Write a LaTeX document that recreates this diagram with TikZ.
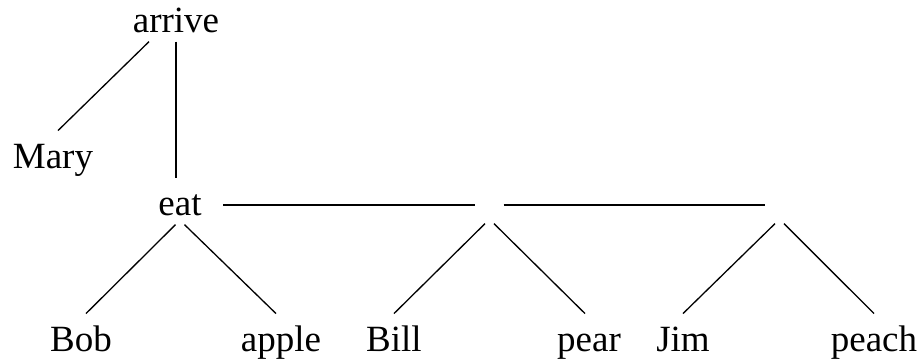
\documentclass[tikz,border=0pt]{standalone}
\usepackage{fontspec}
\setmainfont{Liberation Serif}
\usepackage{tikz}

\begin{document}
\begin{tikzpicture}[x=0.5pt,y=-0.5pt,
  word/.style={anchor=base, inner sep=4.5pt, text height=13.9pt, text depth=0pt,
    font=\fontsize{18.5}{22}\selectfont},
  hole/.style={minimum width=13.5pt, minimum height=18pt, inner sep=0pt},
  every path/.style={line width=0.65pt}]
  \useasboundingbox (0,0) rectangle (922,361);

  \node[word] (arrive) at (176,32) {arrive};
  \node[word] (mary) at (53,168) {Mary};
  \node[word] (eat) at (180,215) {eat};
  \node[hole] (c1) at (489.5,205) {};
  \node[hole] (c2) at (779.5,205) {};
  \node[word] (bob) at (81,351) {Bob};
  \node[word] (apple) at (281,351) {apple};
  \node[word] (bill) at (394,351) {Bill};
  \node[word] (pear) at (589,351) {pear};
  \node[word] (jim) at (683,351) {Jim};
  \node[word] (peach) at (874,351) {peach};

  \draw ([xshift=-13.5pt]arrive.south) -- ([xshift=2.5pt]mary.north);
  \draw (arrive.south) -- (arrive.south |- eat.north);
  \draw[shorten <=6pt] ([yshift=5pt]eat.base east) -- (c1.west);
  \draw (c1.east) -- (c2.west);

  \draw ([xshift=-2.25pt]eat.south) -- ([xshift=2.5pt]bob.north);
  \draw ([xshift=2.25pt]eat.south) -- ([xshift=-2.5pt]apple.north);
  \draw ([xshift=-2.25pt]c1.south) -- (bill.north);
  \draw ([xshift=2.25pt]c1.south) -- ([xshift=-2pt]pear.north);
  \draw ([xshift=-2.25pt]c2.south) -- (jim.north);
  \draw ([xshift=2.25pt]c2.south) -- (peach.north);
\end{tikzpicture}
\end{document}
